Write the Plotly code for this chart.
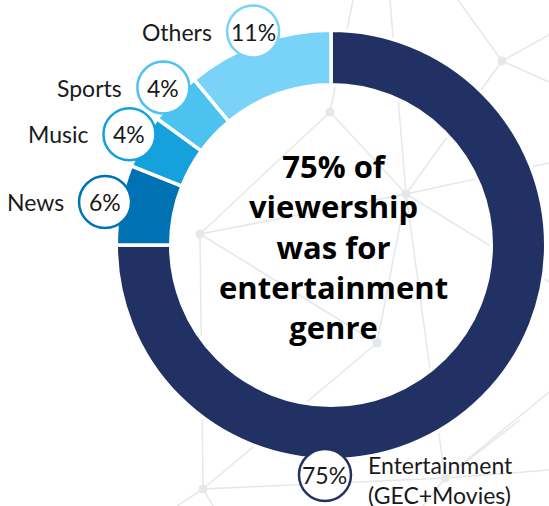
import numpy as np
import plotly.graph_objects as go

# viewership share by genre
genres = ['Entertainment', 'News', 'Music', 'Sports', 'Others']
share = [75, 6, 4, 4, 11]
pct_labels = ['75%', '6%', '4%', '4%', '11%']
name_labels = ['Entertainment<br>(GEC+Movies)', 'News', 'Music', 'Sports', 'Others']
colors = ['#223163', '#0072b4', '#14a1dc', '#4bc2ef', '#79d2f7']

centre_text = '75% of<br>viewership<br>was for<br>entertainment<br>genre'

# faint network in the background (canvas pixels)
node_x = [330, 406, 200, 377, 502, 445, 203]
node_y = [112, 194, 234, 343, 61, 478, 489]
edge_from = [0, 1, 4, 4, 4, 4, 0, 0, 2, 2, 2, 1, 1, 1, 1, 3, 6, 6, 6, 5, 5, 5, 5]
edge_to_x = [353, 390, 458, 549, 549, 406, 406, 200, 406, 203, 377, 549, 549, 445, 377, 203, 445, 177, 213, 520, 423, 549, 549]
edge_to_y = [0, 0, 0, 35, 82, 194, 194, 234, 194, 489, 343, 163, 282, 478, 343, 489, 478, 506, 506, 420, 506, 470, 392]

W, H = 549, 506
cx, cy, R = 331, 245, 213
gap = 3.5
hole_r = 162

fig = go.Figure()

# network lines
lx, ly = [], []
for i, n in enumerate(edge_from):
    lx += [node_x[n], edge_to_x[i], None]
    ly += [node_y[n], edge_to_y[i], None]
fig.add_trace(go.Scatter(x=lx, y=ly, mode='lines', line=dict(color='#e6e7e9', width=1.5),
                         hoverinfo='skip', showlegend=False))
fig.add_trace(go.Scatter(x=node_x, y=node_y, mode='markers',
                         marker=dict(color='#e6e7e9', size=9), hoverinfo='skip', showlegend=False))

# donut
Rp = R + gap / 2
fig.add_trace(go.Pie(
    values=share, labels=genres, sort=False, direction='clockwise', rotation=0,
    hole=(hole_r - gap / 2) / Rp,
    marker=dict(colors=colors, line=dict(color='white', width=gap)),
    textinfo='none', hoverinfo='label+percent', showlegend=False,
    domain=dict(x=[(cx - Rp) / W, (cx + Rp) / W],
                y=[(H - cy - Rp) / H, (H - cy + Rp) / H]),
))

# label bubbles placed at slice mid-angles
vals = np.array(share, dtype=float)
mid = 360 * (np.cumsum(vals) - vals / 2) / vals.sum()
mid[0] = 181.5  # main label sits at the bottom of the ring
lab_r = 230
bx = cx + lab_r * np.sin(np.radians(mid))
by = cy - lab_r * np.cos(np.radians(mid))
by[-1] += 3
br = 26

lab_font = dict(family='Lato', size=23, color='#1a1a1a')
shapes = []
annotations = []
for i in range(len(genres)):
    shapes.append(dict(type='circle', xref='x', yref='y', layer='above',
                       x0=bx[i] - br, x1=bx[i] + br, y0=by[i] - br, y1=by[i] + br,
                       fillcolor='white', line=dict(color=colors[i], width=2.5)))
    annotations.append(dict(x=bx[i], y=by[i], xref='x', yref='y', text=pct_labels[i],
                            showarrow=False, font=lab_font))
    if i == 0:
        annotations.append(dict(x=bx[i] + br + 15, y=by[i] + 5, xref='x', yref='y',
                                text=name_labels[i], showarrow=False, xanchor='left', align='left',
                                font=lab_font))
    else:
        annotations.append(dict(x=bx[i] - br - 13, y=by[i], xref='x', yref='y',
                                text=name_labels[i], showarrow=False, xanchor='right',
                                font=lab_font))

annotations.append(dict(x=cx + 2, y=cy + 1, xref='x', yref='y', text='<b>' + centre_text + '</b>',
                        showarrow=False, align='center',
                        font=dict(family='Open Sans', size=31, color='#000000')))

fig.update_layout(
    width=W, height=H, margin=dict(l=0, r=0, t=0, b=0),
    paper_bgcolor='white', plot_bgcolor='white',
    xaxis=dict(range=[0, W], visible=False, fixedrange=True),
    yaxis=dict(range=[H, 0], visible=False, fixedrange=True),
    shapes=shapes, annotations=annotations,
)

# page body has a default 8px margin; drop it so the chart fills the window
fig.write_html('out.html', config={'displayModeBar': False},
               post_script="document.body.style.margin='0';")
